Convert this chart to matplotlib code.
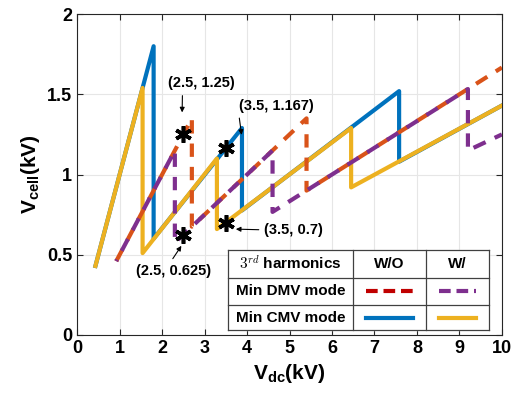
import matplotlib
matplotlib.use('Agg')
import matplotlib.pyplot as plt

plt.rcParams['font.family'] = ['Liberation Sans', 'DejaVu Sans']
plt.rcParams['font.weight'] = 'bold'

# Min CMV mode, w/o 3rd harmonics (blue)
cmv_wo_x = [0.43, 1.80, 1.80, 3.88, 3.88, 7.58, 7.58, 10.0]
cmv_wo_y = [0.43, 1.80, 0.60, 1.29, 0.776, 1.52, 1.08, 1.43]

# Min CMV mode, with 3rd harmonics (yellow)
cmv_w_x = [0.43, 1.54, 1.54, 3.29, 3.29, 6.45, 6.45, 10.0]
cmv_w_y = [0.43, 1.54, 0.51, 1.10, 0.66, 1.29, 0.92, 1.43]

# Min DMV mode, w/o 3rd harmonics (orange)
dmv_wo_x = [0.92, 2.70, 2.70, 5.40, 5.40, 10.0]
dmv_wo_y = [0.46, 1.35, 0.675, 1.35, 0.90, 1.667]

# Min DMV mode, with 3rd harmonics (purple)
dmv_w_x = [0.92, 2.30, 2.30, 4.60, 4.60, 9.20, 9.20, 10.0]
dmv_w_y = [0.46, 1.15, 0.575, 1.15, 0.767, 1.533, 1.15, 1.25]

# marked points
mark_x = [2.5, 3.5, 2.5, 3.5]
mark_y = [1.25, 1.167, 0.625, 0.7]

x_ticks = list(range(0, 11))
y_ticks = [0, 0.5, 1, 1.5, 2]

blue = '#0072BD'
yellow = '#EDB120'
orange = '#D95319'
purple = '#7E2F8E'

fig = plt.figure(figsize=(5.25, 4.04), dpi=100)
ax = fig.add_axes([0.147, 0.171, 0.809, 0.794])

ax.plot(cmv_wo_x, cmv_wo_y, color=blue, lw=3.0, zorder=3)
ax.plot(cmv_w_x, cmv_w_y, color=yellow, lw=3.0, zorder=4)
ax.plot(dmv_wo_x, dmv_wo_y, color=orange, lw=3.0, linestyle=(0, (3.2, 2.4)), zorder=5)
ax.plot(dmv_w_x, dmv_w_y, color=purple, lw=3.0, linestyle=(2.8, (3.2, 2.4)), zorder=6)

ax.plot(mark_x, mark_y, linestyle='none', marker=(6, 2, 0), markersize=12,
        markeredgewidth=2.6, color='black', zorder=7)

arrow = dict(arrowstyle='-|>', color='black', lw=0.8, mutation_scale=7)
ax.annotate('(2.5, 1.25)', xy=(2.47, 1.37), xytext=(2.92, 1.57), fontsize=10.5,
            fontweight='bold', ha='center', va='center', zorder=8,
            arrowprops=dict(arrow, relpos=(0.22, 0.0)))
ax.annotate('(3.5, 1.167)', xy=(3.88, 1.23), xytext=(4.68, 1.43), fontsize=10.5,
            fontweight='bold', ha='center', va='center', zorder=8,
            arrowprops=dict(arrow, relpos=(0.0, 0.0)))
ax.annotate('(3.5, 0.7)', xy=(3.67, 0.66), xytext=(5.1, 0.655), fontsize=10.5,
            fontweight='bold', ha='center', va='center', zorder=8,
            arrowprops=dict(arrow, relpos=(0.0, 0.5)))
ax.annotate('(2.5, 0.625)', xy=(2.49, 0.57), xytext=(2.26, 0.40), fontsize=10.5,
            fontweight='bold', ha='center', va='center', zorder=8,
            arrowprops=dict(arrow, relpos=(0.45, 1.0)))

# table-style legend
tl, tc1, tc2, tr = 3.55, 6.49, 8.21, 9.69
tt, tr1, tr2, tb = 0.53, 0.355, 0.187, 0.03
ax.fill([tl, tr, tr, tl], [tb, tb, tt, tt], color='white', zorder=9)
for yy in [tt, tr1, tr2, tb]:
    ax.plot([tl, tr], [yy, yy], color='#404040', lw=0.9, zorder=10)
for xx in [tl, tc1, tc2, tr]:
    ax.plot([xx, xx], [tb, tt], color='#404040', lw=0.9, zorder=10)

row_mid = [(tt + tr1) / 2, (tr1 + tr2) / 2, (tr2 + tb) / 2]
ax.text((tl + tc1) / 2, row_mid[0], r'$3^{rd}$ harmonics', fontsize=11,
        fontweight='bold', ha='center', va='center', zorder=11,
        math_fontfamily='cm')
ax.text((tc1 + tc2) / 2, row_mid[0], 'W/O', fontsize=11, fontweight='bold',
        ha='center', va='center', zorder=11)
ax.text((tc2 + tr) / 2, row_mid[0], 'W/', fontsize=11, fontweight='bold',
        ha='center', va='center', zorder=11)
ax.text((tl + tc1) / 2, row_mid[1], 'Min DMV mode', fontsize=11,
        fontweight='bold', ha='center', va='center', zorder=11)
ax.text((tl + tc1) / 2, row_mid[2], 'Min CMV mode', fontsize=11,
        fontweight='bold', ha='center', va='center', zorder=11)

ax.plot([tc1 + 0.3, tc2 - 0.3], [row_mid[1]] * 2, color='#C00000', lw=3.0,
        linestyle=(0, (2.8, 1.4)), zorder=11)
ax.plot([tc2 + 0.3, tr - 0.3], [row_mid[1]] * 2, color=purple, lw=3.0,
        linestyle=(0, (2.8, 1.4)), zorder=11)
ax.plot([tc1 + 0.3, tc2 - 0.3], [row_mid[2]] * 2, color=blue, lw=3.0, zorder=11)
ax.plot([tc2 + 0.3, tr - 0.3], [row_mid[2]] * 2, color=yellow, lw=3.0, zorder=11)

ax.set_xlim(0, 10)
ax.set_ylim(0, 2)
ax.set_xticks(x_ticks)
ax.set_yticks(y_ticks)
ax.set_yticklabels(['0', '0.5', '1', '1.5', '2'])
ax.tick_params(direction='in', top=True, right=True, labelsize=13, length=4,
               width=0.8, colors='#262626')
for lbl in ax.get_xticklabels() + ax.get_yticklabels():
    lbl.set_fontweight('bold')
    lbl.set_color('black')
ax.grid(True, color='#e6e6e6', lw=0.8, zorder=0)
ax.set_axisbelow(True)
for s in ax.spines.values():
    s.set_color('#262626')
    s.set_linewidth(0.8)

ax.set_xlabel(r'V$_{\mathregular{dc}}$(kV)', fontsize=15, fontweight='bold')
ax.set_ylabel(r'V$_{\mathregular{cell}}$(kV)', fontsize=15, fontweight='bold')

fig.savefig('out.png', dpi=100)
